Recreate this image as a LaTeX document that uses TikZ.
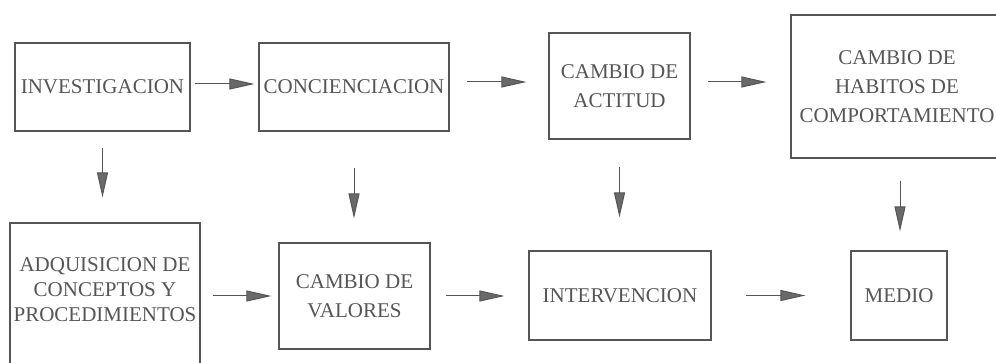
\documentclass[tikz,border=0pt]{standalone}
\usepackage{fontspec}
\setmainfont{Liberation Serif}
\usetikzlibrary{arrows.meta}
\definecolor{ink}{RGB}{85,85,85}
\definecolor{headfill}{RGB}{105,105,105}
\tikzset{
  box/.style={draw=ink, line width=1.1pt, text=ink, align=center, inner sep=0pt,
    font=\fontsize{21}{29}\selectfont},
  lbl/.style={text=ink, align=center, inner sep=0pt, font=\fontsize{21}{25}\selectfont},
  arr/.style={draw=ink, line width=1pt, -{Triangle[length=25pt,width=11pt,fill=headfill]}}
}
\begin{document}
\begin{tikzpicture}[x=1pt,y=-1pt]
\useasboundingbox (0,0) rectangle (996,363);
\clip (0,0) rectangle (996,363);
% top row
\node[box, minimum width=175, minimum height=88] (b1) at (102.5,87) {INVESTIGACION};
\node[box, minimum width=190, minimum height=88] (b2) at (354,87) {CONCIENCIACION};
\node[box, minimum width=141, minimum height=106] (b3) at (619.5,86) {CAMBIO DE\\ACTITUD};
\node[box, minimum width=212, minimum height=143] (b4) at (897,86.5) {CAMBIO DE\\HABITOS DE\\COMPORTAMIENTO};
% bottom row
\node[box, minimum width=190, minimum height=160] (b5) at (105,303) {};
\node[lbl] (t5) at (105,290) {ADQUISICION DE\\CONCEPTOS Y\\PROCEDIMIENTOS};
\node[box, minimum width=151, minimum height=106] (b6) at (354.5,296) {CAMBIO DE\\VALORES};
\node[box, minimum width=182, minimum height=89] (b7) at (620,295.5) {INTERVENCION};
\node[box, minimum width=96, minimum height=89] (b8) at (899,295.5) {MEDIO};
% horizontal arrows
\draw[arr, shorten <=4pt, shorten >=4pt] ([yshift=3pt]b1.east) -- ([yshift=3pt]b1.east -| b2.west);
\draw[arr, shorten <=17pt, shorten >=22pt] ([yshift=5pt]b2.east) -- ([yshift=5pt]b2.east -| b3.west);
\draw[arr, shorten <=17pt, shorten >=24pt] ([yshift=4pt]b3.east) -- ([yshift=4pt]b3.east -| b4.west);
\draw[arr, shorten <=12pt, shorten >=7pt] (b5.east |- b6.east) -- (b6.west);
\draw[arr, shorten <=15pt, shorten >=24pt] (b6.east) -- (b6.east -| b7.west);
\draw[arr, shorten <=34pt, shorten >=45pt] (b7.east) -- (b8.west);
% vertical arrows
\draw[arr, shorten <=16pt, shorten >=25pt] (b1.south) -- (b1.south |- b5.north);
\draw[arr, shorten <=36pt, shorten >=24pt] (b2.south) -- (b2.south |- b6.north);
\draw[arr, shorten <=27pt, shorten >=33pt] (b3.south) -- (b3.south |- b7.north);
\draw[arr, shorten <=22pt, shorten >=19pt] ([xshift=3pt]b4.south) -- ([xshift=3pt]b4.south |- b8.north);
\end{tikzpicture}
\end{document}
